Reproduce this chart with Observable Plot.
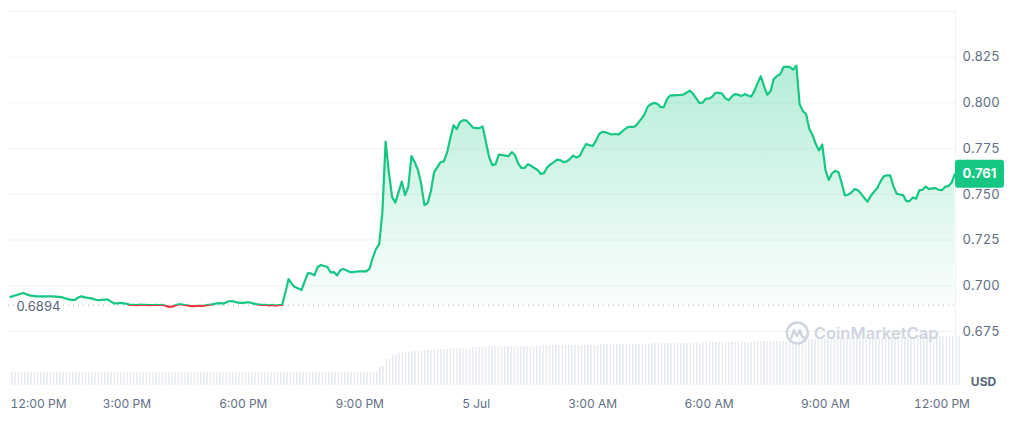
<!DOCTYPE html>
<html>
<head>
<meta charset="utf-8">
<script src="https://cdn.jsdelivr.net/npm/d3@7"></script>
<script src="https://cdn.jsdelivr.net/npm/@observablehq/plot@0.6"></script>
<style>
  html, body { margin: 0; padding: 0; background: #ffffff; }
  #wrap { position: relative; width: 1022px; height: 436px; font-family: Inter, "Noto Sans", sans-serif; }
  #wrap svg { position: absolute; left: 0; top: 0; }
</style>
</head>
<body>
<div id="wrap"></div>
<script>
// ---- data ----
const startTime = new Date(2024, 6, 4, 12, 0);   // 4 Jul, 12:00 PM
const priceStepMinutes = 5;
const prices = [
  0.6939, 0.6945, 0.6950, 0.6956, 0.6961, 0.6953, 0.6948, 0.6945, 0.6942, 0.6943,
  0.6942, 0.6943, 0.6942, 0.6943, 0.6941, 0.6939, 0.6937, 0.6931, 0.6926, 0.6923,
  0.6923, 0.6937, 0.6942, 0.6937, 0.6934, 0.6931, 0.6926, 0.6921, 0.6923, 0.6924,
  0.6925, 0.6915, 0.6904, 0.6904, 0.6907, 0.6904, 0.6901, 0.6896, 0.6896, 0.6894,
  0.6897, 0.6896, 0.6896, 0.6894, 0.6895, 0.6896, 0.6895, 0.6896, 0.6891, 0.6885,
  0.6886, 0.6893, 0.6899, 0.6898, 0.6895, 0.6892, 0.6889, 0.6889, 0.6891, 0.6890,
  0.6892, 0.6896, 0.6897, 0.6901, 0.6904, 0.6905, 0.6903, 0.6912, 0.6917, 0.6915,
  0.6909, 0.6907, 0.6907, 0.6909, 0.6909, 0.6904, 0.6900, 0.6897, 0.6896, 0.6896,
  0.6893, 0.6896, 0.6892, 0.6895, 0.6895, 0.6963, 0.7037, 0.7010, 0.6993, 0.6985,
  0.6977, 0.7026, 0.7070, 0.7067, 0.7057, 0.7103, 0.7114, 0.7108, 0.7103, 0.7073,
  0.7075, 0.7056, 0.7086, 0.7092, 0.7083, 0.7075, 0.7075, 0.7078, 0.7079, 0.7079,
  0.7079, 0.7092, 0.7152, 0.7201, 0.7226, 0.7403, 0.7788, 0.7622, 0.7485, 0.7455,
  0.7512, 0.7570, 0.7496, 0.7540, 0.7709, 0.7676, 0.7633, 0.7556, 0.7441, 0.7452,
  0.7518, 0.7622, 0.7649, 0.7676, 0.7680, 0.7728, 0.7807, 0.7878, 0.7857, 0.7895,
  0.7906, 0.7903, 0.7884, 0.7865, 0.7862, 0.7862, 0.7871, 0.7786, 0.7704, 0.7660,
  0.7665, 0.7717, 0.7715, 0.7712, 0.7709, 0.7731, 0.7715, 0.7668, 0.7644, 0.7644,
  0.7665, 0.7656, 0.7644, 0.7633, 0.7611, 0.7616, 0.7649, 0.7664, 0.7676, 0.7690,
  0.7687, 0.7676, 0.7680, 0.7694, 0.7712, 0.7701, 0.7709, 0.7745, 0.7775, 0.7769,
  0.7764, 0.7791, 0.7829, 0.7842, 0.7839, 0.7833, 0.7827, 0.7830, 0.7827, 0.7841,
  0.7857, 0.7869, 0.7869, 0.7870, 0.7889, 0.7911, 0.7936, 0.7978, 0.7993, 0.8000,
  0.7995, 0.7977, 0.7977, 0.8021, 0.8041, 0.8041, 0.8042, 0.8043, 0.8045, 0.8055,
  0.8067, 0.8051, 0.8026, 0.8000, 0.8001, 0.8023, 0.8023, 0.8034, 0.8055, 0.8055,
  0.8051, 0.8026, 0.8015, 0.8034, 0.8048, 0.8045, 0.8037, 0.8048, 0.8040, 0.8034,
  0.8064, 0.8108, 0.8146, 0.8092, 0.8044, 0.8062, 0.8130, 0.8147, 0.8157, 0.8195,
  0.8198, 0.8195, 0.8182, 0.8204, 0.7993, 0.7955, 0.7939, 0.7857, 0.7824, 0.7775,
  0.7740, 0.7772, 0.7633, 0.7579, 0.7614, 0.7628, 0.7622, 0.7562, 0.7494, 0.7498,
  0.7510, 0.7529, 0.7523, 0.7504, 0.7480, 0.7460, 0.7491, 0.7514, 0.7533, 0.7570,
  0.7598, 0.7604, 0.7604, 0.7545, 0.7504, 0.7499, 0.7496, 0.7463, 0.7463, 0.7483,
  0.7476, 0.7522, 0.7525, 0.7542, 0.7529, 0.7533, 0.7534, 0.7525, 0.7523, 0.7542,
  0.7545, 0.7564, 0.7610
];
const volumeStepMinutes = 10;
const volumes = [
  13, 13, 13, 13, 13, 13, 13, 13, 13, 13, 13, 13, 13, 13, 13, 13, 13, 13, 13, 13,
  13, 13, 13, 13, 13, 13, 13, 13, 13, 13, 13, 13, 13, 13, 13, 13, 13, 13, 13, 13,
  13, 13, 13, 13, 13, 13, 13, 13, 13, 13, 13, 13, 13, 13, 13, 13, 13,
  19, 26, 30, 32, 33, 34, 34, 35, 35, 36, 36, 37, 37, 37, 38, 38, 38,
  39, 39, 39, 39, 39, 39, 39, 39, 40, 40, 40, 40, 40, 40, 40, 40, 40, 41, 41, 41,
  41, 41, 41, 41, 41,
  42, 42, 42, 42, 42, 42, 42, 42, 43, 43, 43, 43, 43, 43, 43, 43, 44, 44, 44, 44,
  44, 44, 44,
  46, 46, 46, 46, 46, 46, 47, 47, 47, 47, 47, 47, 48, 48, 48, 48, 48, 48, 49, 49,
  49, 49, 49, 49, 49
];
const baselinePrice = 0.6894;
const lastPriceLabel = "0.761";
const yTickValues = [0.675, 0.700, 0.725, 0.750, 0.775, 0.800, 0.825];
const gridValues = [0.675, 0.700, 0.725, 0.750, 0.775, 0.800, 0.825, 0.850];
const xTickDates = [
  new Date(2024, 6, 4, 12), new Date(2024, 6, 4, 15), new Date(2024, 6, 4, 18),
  new Date(2024, 6, 4, 21), new Date(2024, 6, 5, 0), new Date(2024, 6, 5, 3),
  new Date(2024, 6, 5, 6), new Date(2024, 6, 5, 9), new Date(2024, 6, 5, 12)
];
const xTickLabels = ["12:00 PM", "3:00 PM", "6:00 PM", "9:00 PM", "5 Jul", "3:00 AM", "6:00 AM", "9:00 AM", "12:00 PM"];
const watermarkText = "CoinMarketCap";
const currencyText = "USD";

// ---- build ----
const priceData = prices.map((p, i) => ({ time: d3.timeMinute.offset(startTime, i * priceStepMinutes), price: p }));
const volumeData = volumes.map((v, i) => ({
  time: d3.timeMinute.offset(startTime, i * volumeStepMinutes),
  end: d3.timeMinute.offset(startTime, (i + 1) * volumeStepMinutes),
  volume: v
}));
const labelByTime = new Map(xTickDates.map((d, i) => [+d, xTickLabels[i]]));

const W = 1022, H = 436;
const xDomain = [new Date(2024, 6, 4, 11, 57), new Date(2024, 6, 5, 12, 21)];
const GREEN = "#16c784", RED = "#ea3943", WM = "#cfd5df";
const common = { width: W, height: H, marginLeft: 8, marginRight: 67, marginBottom: 51 };

const wrap = document.getElementById("wrap");

const volChart = Plot.plot({
  ...common,
  marginTop: 330,
  x: { type: "time", domain: xDomain, axis: null },
  y: { domain: [0, 55], axis: null },
  style: { background: "transparent" },
  marks: [
    Plot.rect(volumeData, { x1: "time", x2: "end", y1: 0, y2: "volume", fill: "url(#volHatch)" })
  ]
});
wrap.appendChild(volChart);
{
  const vd = d3.select(volChart).insert("defs", ":first-child");
  const pat = vd.append("pattern").attr("id", "volHatch").attr("patternUnits", "userSpaceOnUse")
    .attr("x", 8).attr("y", 0).attr("width", 3.2).attr("height", 20);
  pat.append("rect").attr("x", 0).attr("y", 0).attr("width", 1.3).attr("height", 20).attr("fill", "#e4e8ee");
}

const chart = Plot.plot({
  ...common,
  marginTop: 10,
  x: { type: "time", domain: xDomain, label: null },
  y: { domain: [0.6455, 0.8505], label: null },
  style: { background: "transparent", fontFamily: "Inter, 'Noto Sans', sans-serif", fontSize: "12px", color: "#616e85", overflow: "visible" },
  marks: [
    Plot.ruleY(gridValues, { stroke: "#eff2f5", strokeWidth: 1 }),
    Plot.ruleX([xDomain[1]], { stroke: "#eff2f5", strokeWidth: 1 }),
    Plot.areaY(priceData, { x: "time", y1: baselinePrice, y2: "price", fill: "url(#cmcArea)" }),
    Plot.ruleY([baselinePrice], { stroke: "#a6b0c3", strokeWidth: 1, strokeDasharray: "1,4" }),
    Plot.lineY(priceData, { x: "time", y: "price", stroke: "url(#cmcLine)", strokeWidth: 2.2, strokeLinejoin: "round" }),
    Plot.text([baselinePrice], { frameAnchor: "left", y: d => d, text: d => d3.format(".4f")(d), dx: 8, dy: 2,
      textAnchor: "start", fontSize: 13, fill: "#58667e", stroke: "white", strokeWidth: 6 }),
    Plot.axisY(yTickValues, { anchor: "right", tickSize: 0, tickPadding: 7, tickFormat: d3.format(".3f"), fontSize: 13, label: null }),
    Plot.axisX(xTickDates, { tickSize: 0, tickPadding: 14, tickFormat: d => labelByTime.get(+d), fontSize: 12, label: null }),
    Plot.text([currencyText], { frameAnchor: "bottom-right", dx: 28, dy: -3, textAnchor: "middle", lineAnchor: "middle",
      fontSize: 12, fontWeight: 700, fill: "#58667e" }),
    Plot.text([watermarkText], { frameAnchor: "bottom-right", dx: -17, dy: -52, textAnchor: "end", lineAnchor: "middle",
      fontSize: 16.5, fontWeight: 600, fill: WM })
  ]
});
wrap.appendChild(chart);

// gradients, price tag, logo
const svg = d3.select(chart);
const y = chart.scale("y"), x = chart.scale("x");
const yb = y.apply(baselinePrice);
const ytop = y.apply(d3.max(prices));
const defs = svg.insert("defs", ":first-child");
const ag = defs.append("linearGradient").attr("id", "cmcArea").attr("gradientUnits", "userSpaceOnUse")
  .attr("x1", 0).attr("x2", 0).attr("y1", ytop).attr("y2", H);
const f = (yb - ytop) / (H - ytop);
ag.append("stop").attr("offset", 0).attr("stop-color", GREEN).attr("stop-opacity", 0.32);
ag.append("stop").attr("offset", f).attr("stop-color", GREEN).attr("stop-opacity", 0.02);
ag.append("stop").attr("offset", f).attr("stop-color", RED).attr("stop-opacity", 0.05);
ag.append("stop").attr("offset", 1).attr("stop-color", RED).attr("stop-opacity", 0.0);
const lg = defs.append("linearGradient").attr("id", "cmcLine").attr("gradientUnits", "userSpaceOnUse")
  .attr("x1", 0).attr("x2", 0).attr("y1", 0).attr("y2", H);
lg.append("stop").attr("offset", yb / H).attr("stop-color", GREEN);
lg.append("stop").attr("offset", yb / H).attr("stop-color", RED);

// first x tick label aligned to its left edge like the reference
svg.selectAll('g[aria-label="x-axis tick label"] text').filter((d, i) => i === 0).attr("text-anchor", "start");

// current price tag
const xr = x.apply(xDomain[1]);
const yl = y.apply(prices[prices.length - 1]);
svg.append("rect").attr("x", xr).attr("y", yl - 14).attr("width", 49).attr("height", 28).attr("rx", 3).attr("fill", GREEN);
svg.append("text").attr("x", xr + 24.5).attr("y", yl).attr("dy", "0.35em").attr("text-anchor", "middle")
  .attr("fill", "#ffffff").attr("font-size", 13).attr("font-weight", 700)
  .attr("font-family", "Inter, 'Noto Sans', sans-serif").text(lastPriceLabel);

// watermark logo (placed left of the watermark text)
{
  const ctx = document.createElement("canvas").getContext("2d");
  ctx.font = "600 16.5px Inter";
  const tw = ctx.measureText(watermarkText).width;
  const textRight = xr - 17;
  const yRange = y.range;
  const cx = textRight - tw - 16, cy = Math.max(yRange[0], yRange[1]) - 52;
  const g = svg.append("g").attr("fill", "none").attr("stroke", WM).attr("stroke-width", 2.4)
    .attr("stroke-linecap", "round").attr("stroke-linejoin", "round");
  g.append("circle").attr("cx", cx).attr("cy", cy).attr("r", 10.5);
  g.append("path").attr("d",
    `M${cx - 6},${cy + 5} L${cx - 3.5},${cy - 3} L${cx - 0.5},${cy + 3} L${cx + 2.5},${cy - 3} L${cx + 4.5},${cy + 3} Q${cx + 6.5},${cy + 6} ${cx + 10},${cy + 3.5}`);
}
</script>
</body>
</html>
